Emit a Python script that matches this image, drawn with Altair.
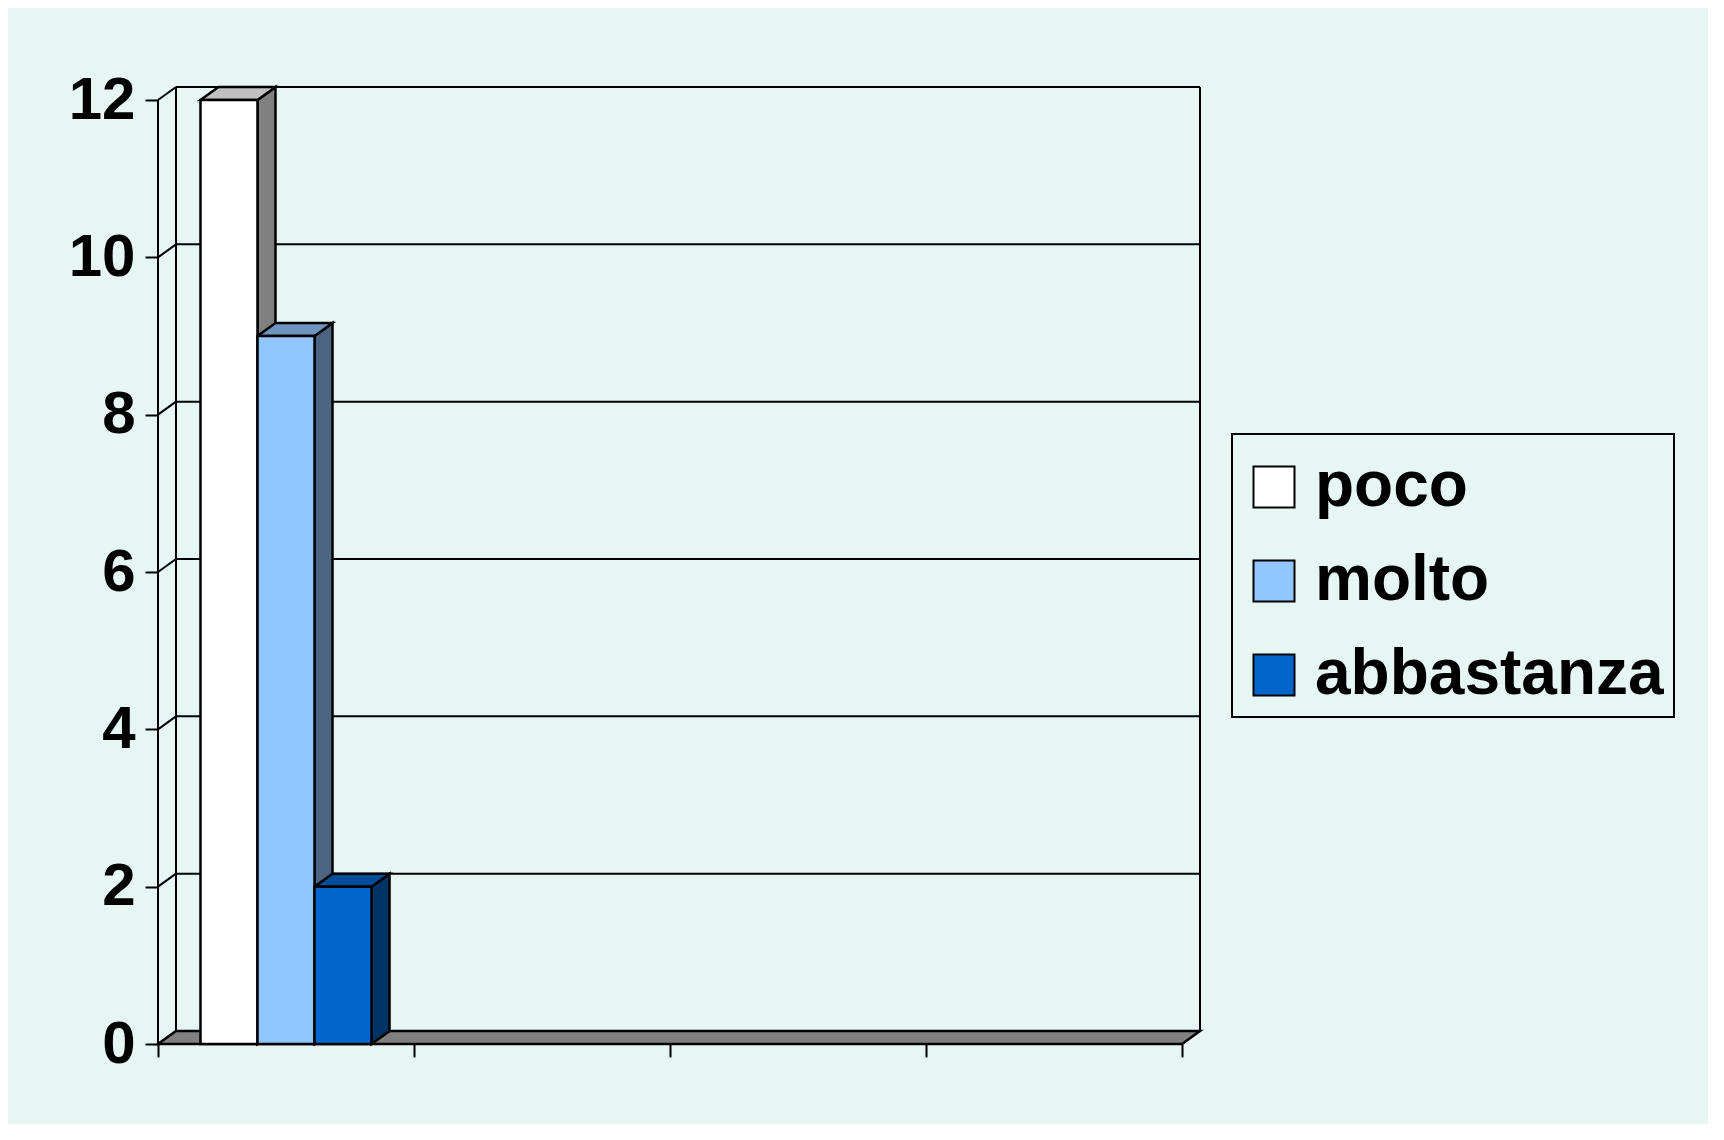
import altair as alt
import pandas as pd

# ---- data ----
series = ["poco", "molto", "abbastanza"]
values = [12, 9, 2]
front_colors = ["#ffffff", "#91c6ff", "#0066cc"]
top_colors = ["#c0c0c0", "#6d95c0", "#004d99"]
side_colors = ["#808080", "#4a6482", "#003366"]
y_ticks = [0, 2, 4, 6, 8, 10, 12]
x_ticks = [0, 1, 2, 3, 4]
n_cats = 4

# ---- 3D depth style (in data units) ----
DX = 0.0703   # horizontal depth offset (category units)
DY = 0.1653   # vertical depth offset (value units)
BAR_W = 0.2227
GROUP_START = 0.5 - 1.5 * BAR_W
YMAX = 12

BG = "#e6f7f3"
FONT = "Liberation Sans"

xs = alt.Scale(domain=[0, n_cats + DX], nice=False, zero=False)
ys = alt.Scale(domain=[0, YMAX + DY], nice=False, zero=False)

# back-wall gridlines
grid = pd.DataFrame({"x": [DX] * len(y_ticks), "x2": [n_cats + DX] * len(y_ticks),
                     "y": [v + DY for v in y_ticks], "y2": [v + DY for v in y_ticks]})
# side-wall diagonals
diag = pd.DataFrame({"x": [0] * len(y_ticks), "x2": [DX] * len(y_ticks),
                     "y": y_ticks, "y2": [v + DY for v in y_ticks]})
# vertical wall edges
edges = pd.DataFrame({"x": [0, DX, n_cats + DX], "x2": [0, DX, n_cats + DX],
                      "y": [0, DY, DY], "y2": [YMAX, YMAX + DY, YMAX + DY]})

# floor parallelogram as area
floor = pd.DataFrame({"x": [0, DX, n_cats, n_cats + DX],
                      "y": [0, 0, 0, DY],
                      "y2": [0, DY, DY, DY], "id": ["floor"] * 4})

side_rows, top_rows, front_rows = [], [], []
for i, (s, v) in enumerate(zip(series, values)):
    x0 = GROUP_START + i * BAR_W
    x1 = x0 + BAR_W
    front_rows.append({"serie": s, "x": x0, "x2": x1, "y": 0, "y2": v})
    for xx, lo, hi in [(x1, 0, v), (x1 + DX, DY, v + DY)]:
        side_rows.append({"id": s, "x": xx, "y": lo, "y2": hi, "c": side_colors[i]})
    for xx, lo, hi in [(x0, v, v), (x0 + DX, v, v + DY), (x1, v, v + DY), (x1 + DX, v + DY, v + DY)]:
        top_rows.append({"id": s, "x": xx, "y": lo, "y2": hi, "c": top_colors[i]})
sides = pd.DataFrame(side_rows)
tops = pd.DataFrame(top_rows)
fronts = pd.DataFrame(front_rows)

LW = 2
BW = 2.5

grid_l = alt.Chart(grid).mark_rule(color="black", strokeWidth=LW).encode(
    x=alt.X("x:Q", scale=xs), x2="x2", y=alt.Y("y:Q", scale=ys), y2="y2")
diag_l = alt.Chart(diag).mark_rule(color="black", strokeWidth=LW).encode(
    x=alt.X("x:Q", scale=xs), x2="x2", y=alt.Y("y:Q", scale=ys), y2="y2")
edge_l = alt.Chart(edges).mark_rule(color="black", strokeWidth=LW).encode(
    x=alt.X("x:Q", scale=xs), x2="x2", y=alt.Y("y:Q", scale=ys), y2="y2")
floor_l = alt.Chart(floor).mark_area(fill="#808080", stroke="black", strokeWidth=BW).encode(
    x=alt.X("x:Q", scale=xs),
    y=alt.Y("y:Q", scale=ys, stack=None), y2="y2", detail="id:N")

side_l = alt.Chart(sides).mark_area(stroke="black", strokeWidth=BW).encode(
    x=alt.X("x:Q", scale=xs),
    y=alt.Y("y:Q", scale=ys, stack=None), y2="y2", detail="id:N",
    fill=alt.Fill("c:N", scale=None))
top_l = alt.Chart(tops).mark_area(stroke="black", strokeWidth=BW).encode(
    x=alt.X("x:Q", scale=xs),
    y=alt.Y("y:Q", scale=ys, stack=None), y2="y2", detail="id:N",
    fill=alt.Fill("c:N", scale=None))

front_l = alt.Chart(fronts).mark_rect(stroke="black", strokeWidth=BW).encode(
    x=alt.X("x:Q", scale=xs,
            axis=alt.Axis(values=x_ticks, labels=False, domain=False, grid=False,
                          ticks=True, tickSize=13, tickWidth=LW, tickColor="black",
                          title=None)),
    x2="x2",
    y=alt.Y("y:Q", scale=ys,
            axis=alt.Axis(values=y_ticks, format="d", domain=False, grid=False, ticks=True,
                          tickSize=13, tickWidth=LW, tickColor="black",
                          labelFont=FONT, labelFontSize=60, labelFontWeight="bold",
                          labelColor="black", labelPadding=10, title=None)),
    y2="y2",
    fill=alt.Fill("serie:N", sort=series,
                  scale=alt.Scale(domain=series, range=front_colors),
                  legend=alt.Legend(orient="none", legendX=1074, legendY=347,
                                    title=" ", titleFontSize=1, titlePadding=10,
                                    symbolType="square", symbolSize=1681,
                                    symbolStrokeColor="black", symbolStrokeWidth=2,
                                    labelFont=FONT, labelFontSize=64,
                                    labelFontWeight="bold", labelColor="black",
                                    labelOffset=9, rowPadding=30, padding=10,
                                    strokeColor="black", fillColor=BG,
                                    labelLimit=1000)),
)

chart = alt.layer(grid_l, diag_l, edge_l, floor_l, side_l, top_l, front_l).properties(
    width=1042, height=957,
    autosize=alt.AutoSizeParams(type="none"),
    padding={"left": 150, "top": 79, "right": 508, "bottom": 80},
    background=BG,
).configure_view(stroke=None).configure_legend(strokeWidth=2)

chart.save("out.html", embed_options={"renderer": "svg", "actions": False})
